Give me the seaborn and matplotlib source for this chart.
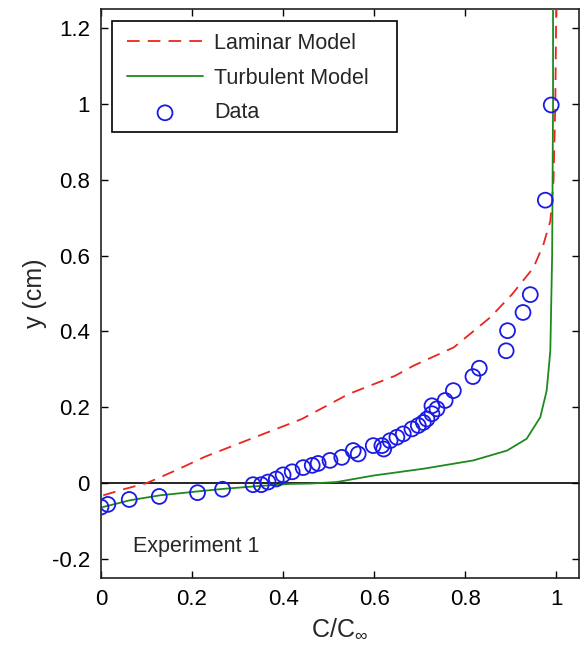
import matplotlib
matplotlib.use("Agg")
import matplotlib.pyplot as plt
from matplotlib.patches import Rectangle
import seaborn as sns
import pandas as pd

# ---- data ----
data_x = [0.0, 0.015, 0.062, 0.128, 0.212, 0.267, 0.334, 0.352, 0.367, 0.385,
          0.400, 0.420, 0.444, 0.464, 0.477, 0.503, 0.529, 0.554, 0.565, 0.598,
          0.617, 0.621, 0.635, 0.650, 0.664, 0.683, 0.697, 0.708, 0.716, 0.727,
          0.727, 0.738, 0.756, 0.774, 0.817, 0.831, 0.890, 0.893, 0.927, 0.943,
          0.976, 0.989]
data_y = [-0.063, -0.056, -0.043, -0.035, -0.025, -0.016, -0.004, -0.004, 0.003, 0.011,
          0.022, 0.030, 0.041, 0.047, 0.052, 0.060, 0.068, 0.086, 0.077, 0.099,
          0.099, 0.090, 0.112, 0.121, 0.130, 0.143, 0.152, 0.160, 0.169, 0.183,
          0.204, 0.196, 0.218, 0.244, 0.281, 0.303, 0.349, 0.402, 0.450, 0.497,
          0.746, 0.997]

laminar_x = [0.005, 0.050, 0.100, 0.163, 0.229, 0.338, 0.441, 0.544, 0.646, 0.687,
             0.775, 0.855, 0.903, 0.950, 0.972, 0.987, 0.994, 0.998, 1.000]
laminar_y = [-0.032, -0.016, 0.000, 0.033, 0.070, 0.121, 0.169, 0.235, 0.283, 0.310,
             0.358, 0.437, 0.498, 0.568, 0.630, 0.691, 0.797, 1.000, 1.250]

turb_x = [0.004, 0.064, 0.130, 0.218, 0.269, 0.342, 0.415, 0.460, 0.518, 0.598,
          0.708, 0.818, 0.892, 0.935, 0.965, 0.979, 0.987, 0.991, 0.993, 0.993]
turb_y = [-0.063, -0.045, -0.032, -0.021, -0.015, -0.008, -0.002, -0.001, 0.003, 0.020,
          0.038, 0.060, 0.086, 0.117, 0.174, 0.244, 0.349, 0.600, 1.000, 1.250]

xticks = [0, 0.2, 0.4, 0.6, 0.8, 1]
xticklabels = ["0", "0.2", "0.4", "0.6", "0.8", "1"]
yticks = [-0.2, 0, 0.2, 0.4, 0.6, 0.8, 1, 1.2]
yticklabels = ["-0.2", "0", "0.2", "0.4", "0.6", "0.8", "1", "1.2"]

sns.set_style("ticks")
plt.rcParams["font.family"] = ["Liberation Sans", "DejaVu Sans"]
plt.rcParams["mathtext.fontset"] = "custom"
plt.rcParams["mathtext.rm"] = "Liberation Sans"
plt.rcParams["mathtext.it"] = "Liberation Sans"

fig = plt.figure(figsize=(5.82, 6.46), dpi=100)
ax = fig.add_axes([101 / 582, 68 / 646, 478 / 582, 569 / 646])

df_lam = pd.DataFrame({"x": laminar_x, "y": laminar_y})
df_tur = pd.DataFrame({"x": turb_x, "y": turb_y})
df_dat = pd.DataFrame({"x": data_x, "y": data_y})

ax.axhline(0, color="black", lw=1.2, zorder=1)
sns.lineplot(data=df_lam, x="x", y="y", sort=False, estimator=None, ax=ax,
             color="#e8281e", lw=1.3, label="Laminar Model", zorder=3)
ax.lines[-1].set_dashes([7, 4.5])
sns.lineplot(data=df_tur, x="x", y="y", sort=False, estimator=None, ax=ax,
             color="#1e8a1e", lw=1.3, label="Turbulent Model", zorder=3)
sns.scatterplot(data=df_dat, x="x", y="y", ax=ax, marker="o", s=115,
                facecolors="none", edgecolor="#1a1ae6", linewidth=1.3,
                label="Data", zorder=4)

ax.set_xlim(0, 1.05)
ax.set_ylim(-0.25, 1.25)
ax.set_xticks(xticks)
ax.set_xticklabels(xticklabels)
ax.set_yticks(yticks)
ax.set_yticklabels(yticklabels)
ax.tick_params(direction="in", length=5, width=1, top=True, right=True,
               labelsize=16, colors="black", pad=8)
for s in ax.spines.values():
    s.set_visible(True)
    s.set_linewidth(1.2)
    s.set_color("#222222")

ax.set_xlabel("C/C$_{\\infty}$", fontsize=18, labelpad=5)
ax.set_ylabel("y (cm)", fontsize=18, labelpad=3)

ax.text(0.067, 0.055, "Experiment 1", transform=ax.transAxes, fontsize=15.5,
        ha="left", va="center")

leg = ax.legend(loc="upper left", bbox_to_anchor=(0.054, 0.958), fontsize=15.5,
                frameon=False, handlelength=3.55, handletextpad=0.5,
                borderpad=0, labelspacing=0.64, borderaxespad=0)
ax.add_patch(Rectangle((0.023, 0.784), 0.596, 0.195, transform=ax.transAxes,
                       facecolor="white", edgecolor="black", lw=1.2, zorder=5))
leg.set_zorder(6)

fig.savefig("out.png", dpi=100)
